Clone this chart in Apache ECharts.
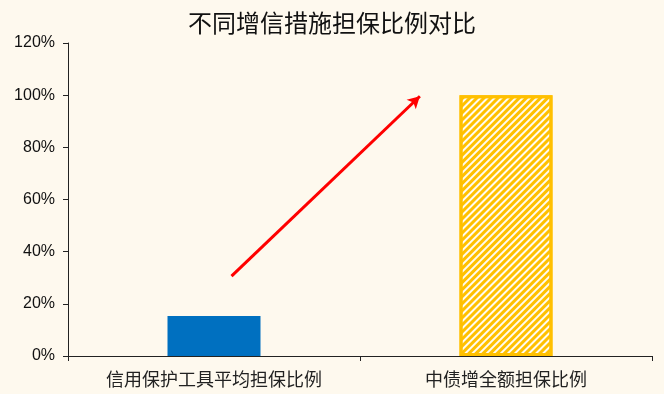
<!DOCTYPE html>
<html>
<head>
<meta charset="utf-8">
<script src="https://cdn.jsdelivr.net/npm/echarts@6/dist/echarts.min.js"></script>
<style>
html,body{margin:0;padding:0;background:#FEF9EE;}
#chart{width:664px;height:394px;}
</style>
</head>
<body>
<div id="chart"></div>
<script>
// Categories and guarantee ratios (%)
const categories = ['信用保护工具平均担保比例', '中债增全额担保比例'];
const ratios = [15.3, 100];
const yTicks = [0, 20, 40, 60, 80, 100, 120];
// Arrow endpoints: [category position, percent]
const arrowFrom = [0.06, 30.6];
const arrowTo = [0.705, 99.6];

const chart = echarts.init(document.getElementById('chart'));
chart.setOption({
  backgroundColor: '#FEF9EE',
  animation: false,
  title: {
    text: '不同增信措施担保比例对比',
    left: 'center', top: 6,
    textStyle: { fontFamily: 'Noto Sans CJK SC', fontSize: 24, fontWeight: 'normal', color: '#111' }
  },
  grid: { left: 68, right: 12, top: 43, bottom: 38 },
  xAxis: [{
    type: 'category',
    data: categories,
    axisLine: { lineStyle: { color: '#222', width: 1 } },
    axisTick: { show: true, length: 5, lineStyle: { color: '#222' } },
    axisLabel: { fontFamily: 'Noto Sans CJK SC', fontSize: 18, color: '#222', margin: 14 }
  }, {
    type: 'value', min: -0.5, max: 1.5, show: false
  }],
  yAxis: {
    type: 'value', min: 0, max: 120, interval: 20,
    axisLine: { show: true, onZero: false, lineStyle: { color: '#222' } },
    axisTick: { show: true, length: 5, lineStyle: { color: '#222' } },
    splitLine: { show: false },
    axisLabel: { formatter: v => yTicks.includes(v) ? v + '%' : '', fontFamily: 'Liberation Sans', fontSize: 16, color: '#111', margin: 13 }
  },
  series: [{
    type: 'bar',
    barWidth: 93,
    data: [
      { value: ratios[0], itemStyle: { color: '#0070C0' } },
      {
        value: ratios[1],
        itemStyle: {
          color: '#FFFBF0',
          borderColor: '#FFC000',
          borderWidth: 3,
          decal: { symbol: 'rect', color: '#FFC000', dashArrayX: [1, 0], dashArrayY: [2.5, 1.8], rotation: -Math.PI / 4 }
        }
      }
    ]
  }, {
    type: 'line',
    xAxisIndex: 1,
    data: [],
    markLine: {
      silent: true,
      symbol: ['none', 'arrow'],
      symbolSize: [10, 12],
      label: { show: false },
      lineStyle: { color: '#FF0000', width: 3, type: 'solid' },
      data: [[{ coord: arrowFrom }, { coord: arrowTo }]]
    }
  }]
});
</script>
</body>
</html>
